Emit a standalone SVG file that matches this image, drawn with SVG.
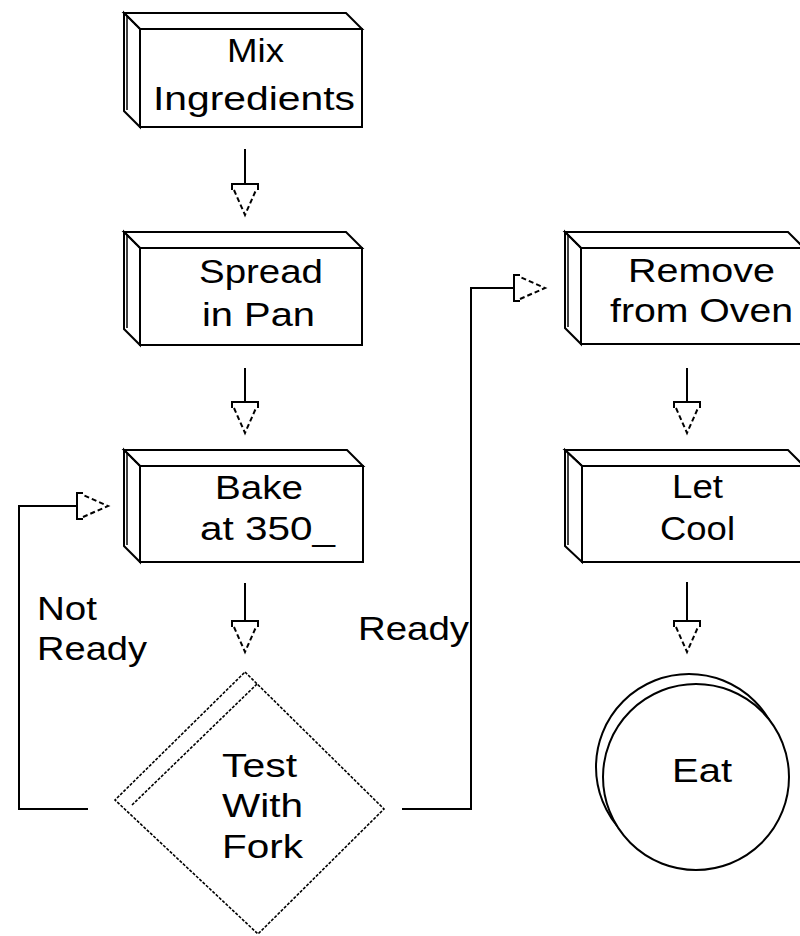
<svg xmlns="http://www.w3.org/2000/svg" xmlns:xlink="http://www.w3.org/1999/xlink" width="800" height="936" viewBox="0 0 800 936">
<style>
  .face { fill: #ffffff; stroke: #000000; stroke-width: 2; stroke-linejoin: miter; }
  .edge { fill: none; stroke: #000000; stroke-width: 1.5; stroke-dasharray: 3 2; }
  .line { fill: none; stroke: #000000; stroke-width: 2; }
  .thin { fill: none; stroke: #000000; stroke-width: 1.5; }
  .lbl { font-family: "Liberation Sans", Arial, sans-serif; font-size: 34px; fill: #000000; }
</style>
<defs>
  <g id="ah">
    <path d="M-13,-25 V-31 H13 V-25" class="line"/>
    <path d="M-11,-25 L0,0 L11,-25" fill="none" stroke="#000" stroke-width="2" stroke-dasharray="5 3"/>
  </g>
</defs>
<rect width="800" height="936" fill="#ffffff"/>

<g id="node-mix">
  <polygon class="face" points="124,13 346,13 362,29 140,29"/>
  <polygon class="face" points="124,13 140,29 140,127 124,111"/>
  <line x1="127" y1="15" x2="127" y2="110" class="thin"/>
  <line x1="124" y1="13" x2="140" y2="29" class="edge"/>
  <rect class="face" x="140" y="29" width="222" height="98"/>
  <text class="lbl" x="227" y="62" textLength="57" lengthAdjust="spacingAndGlyphs">Mix</text>
  <text class="lbl" x="153" y="110" textLength="202" lengthAdjust="spacingAndGlyphs">Ingredients</text>
</g>

<g id="node-spread">
  <polygon class="face" points="124,232 346,232 362,248 140,248"/>
  <polygon class="face" points="124,232 140,248 140,345 124,329"/>
  <line x1="127" y1="234" x2="127" y2="328" class="thin"/>
  <line x1="124" y1="232" x2="140" y2="248" class="edge"/>
  <rect class="face" x="140" y="248" width="222" height="97"/>
  <text class="lbl" x="199" y="283" textLength="124" lengthAdjust="spacingAndGlyphs">Spread</text>
  <text class="lbl" x="202" y="326" textLength="113" lengthAdjust="spacingAndGlyphs">in Pan</text>
</g>

<g id="node-bake">
  <polygon class="face" points="124,450 347,450 363,466 140,466"/>
  <polygon class="face" points="124,450 140,466 140,562 124,546"/>
  <line x1="127" y1="452" x2="127" y2="545" class="thin"/>
  <line x1="124" y1="450" x2="140" y2="466" class="edge"/>
  <rect class="face" x="140" y="466" width="223" height="96"/>
  <text class="lbl" x="215" y="499" textLength="88" lengthAdjust="spacingAndGlyphs">Bake</text>
  <text class="lbl" x="200" y="540" textLength="135" lengthAdjust="spacingAndGlyphs">at 350_</text>
</g>

<g id="node-test">
  <polygon points="245,672 384,809 258,934 115,800" fill="#ffffff" stroke="#000" stroke-width="1.6" stroke-dasharray="3 1.5"/>
  <line x1="257" y1="684" x2="131" y2="806" stroke="#000" stroke-width="1.6" stroke-dasharray="3 1.5"/>
  <text class="lbl" x="222" y="777" textLength="75" lengthAdjust="spacingAndGlyphs">Test</text>
  <text class="lbl" x="222" y="817" textLength="81" lengthAdjust="spacingAndGlyphs">With</text>
  <text class="lbl" x="222" y="858" textLength="81" lengthAdjust="spacingAndGlyphs">Fork</text>
</g>

<g id="node-remove">
  <polygon class="face" points="565,232 788,232 804,248 581,248"/>
  <polygon class="face" points="565,232 581,248 581,344 565,328"/>
  <line x1="568" y1="234" x2="568" y2="327" class="thin"/>
  <line x1="565" y1="232" x2="581" y2="248" class="edge"/>
  <rect class="face" x="581" y="248" width="223" height="96"/>
  <text class="lbl" x="628" y="282" textLength="147" lengthAdjust="spacingAndGlyphs">Remove</text>
  <text class="lbl" x="610" y="322" textLength="183" lengthAdjust="spacingAndGlyphs">from Oven</text>
</g>

<g id="node-cool">
  <polygon class="face" points="565,450 788,450 804,466 582,466"/>
  <polygon class="face" points="565,450 582,466 582,562 565,546"/>
  <line x1="568" y1="452" x2="568" y2="545" class="thin"/>
  <line x1="565" y1="450" x2="582" y2="466" class="edge"/>
  <rect class="face" x="582" y="466" width="222" height="96"/>
  <text class="lbl" x="672" y="498" textLength="51" lengthAdjust="spacingAndGlyphs">Let</text>
  <text class="lbl" x="660" y="540" textLength="75" lengthAdjust="spacingAndGlyphs">Cool</text>
</g>

<g id="node-eat">
  <circle cx="689" cy="767" r="93" fill="#ffffff" stroke="#000" stroke-width="2"/>
  <circle cx="696" cy="777" r="93" fill="#ffffff" stroke="#000" stroke-width="2"/>
  <text class="lbl" x="672" y="782" textLength="60" lengthAdjust="spacingAndGlyphs">Eat</text>
</g>

<g id="connectors">
  <line class="line" x1="245" y1="149" x2="245" y2="184"/>
  <use xlink:href="#ah" transform="translate(245,215)"/>
  <line class="line" x1="245" y1="368" x2="245" y2="402"/>
  <use xlink:href="#ah" transform="translate(245,433)"/>
  <line class="line" x1="245" y1="583" x2="245" y2="621"/>
  <use xlink:href="#ah" transform="translate(245,652)"/>
  <line class="line" x1="687" y1="368" x2="687" y2="402"/>
  <use xlink:href="#ah" transform="translate(687,433)"/>
  <line class="line" x1="687" y1="582" x2="687" y2="621"/>
  <use xlink:href="#ah" transform="translate(687,652)"/>
  <polyline class="line" points="88,809 19,809 19,506 77,506"/>
  <use xlink:href="#ah" transform="translate(108,506) rotate(-90)"/>
  <polyline class="line" points="402,809 471,809 471,288 514,288"/>
  <use xlink:href="#ah" transform="translate(545,288) rotate(-90)"/>
  <text class="lbl" x="37" y="620" textLength="60" lengthAdjust="spacingAndGlyphs">Not</text>
  <text class="lbl" x="37" y="660" textLength="110" lengthAdjust="spacingAndGlyphs">Ready</text>
  <text class="lbl" x="358" y="640" textLength="111" lengthAdjust="spacingAndGlyphs">Ready</text>
</g>
</svg>
